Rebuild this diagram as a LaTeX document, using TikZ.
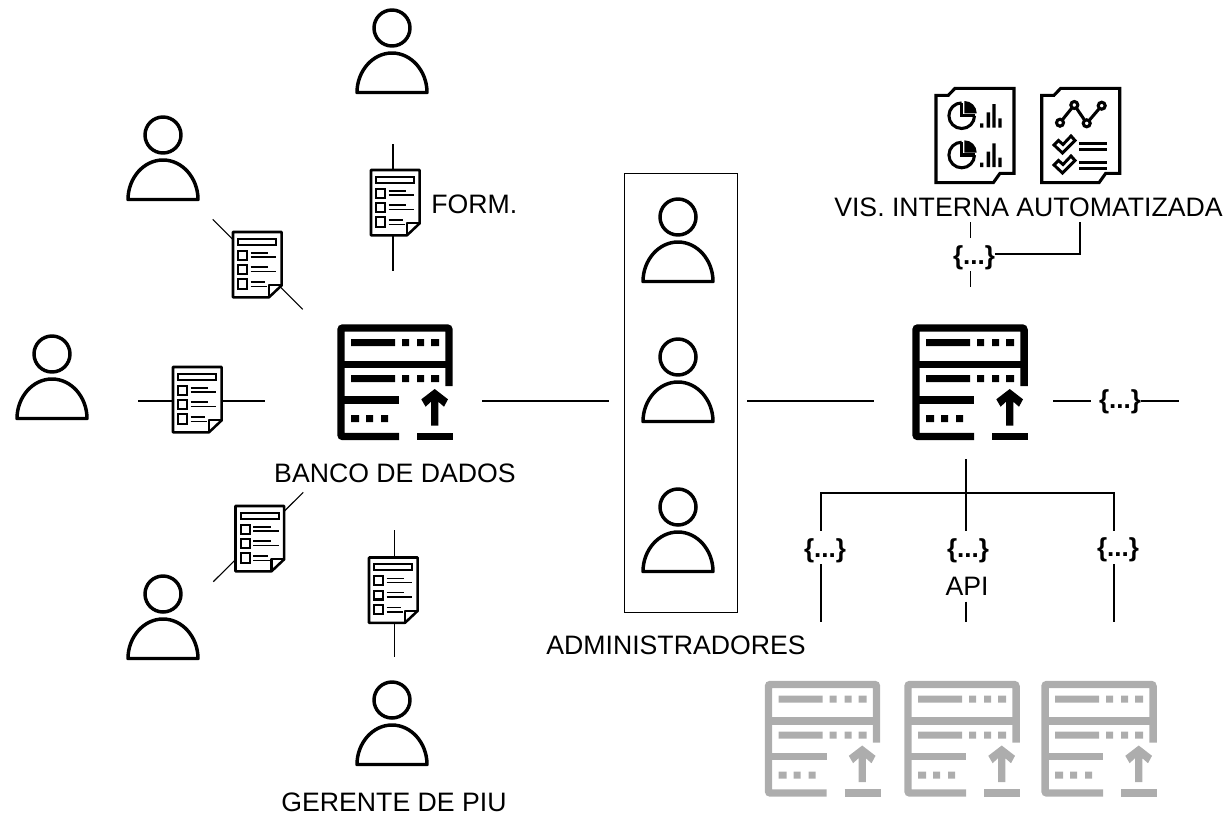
\documentclass[tikz,border=0pt]{standalone}
\usepackage{fontspec}
\setmainfont{Liberation Sans}
\definecolor{srvgray}{HTML}{ADADAD}
\tikzset{
  lbl/.style={inner sep=0pt,font=\fontsize{20}{22}\selectfont},
  brc/.style={inner sep=0pt,font=\fontsize{19.5}{22}\selectfont\bfseries},
  conn/.style={draw=black,line width=0.85pt},
  pics/server/.style={code={
    \draw[#1,line width=5.6pt,rounded corners=1.5pt] (62,112.5)--(4,112.5)--(4,4)--(112,4)--(112,62);
    \draw[#1,line width=5.6pt] (4,40.5)--(112,40.5) (4,76)--(62,76) (80,112.5)--(116,112.5);
    \fill[#1] (14,15) rectangle (58,22) (65,15) rectangle (72,22) (80,15) rectangle (87,22) (94,15) rectangle (102,22);
    \fill[#1] (14,51) rectangle (58,58) (65,51) rectangle (72,58) (80,51) rectangle (87,58) (94,51) rectangle (102,58);
    \fill[#1] (14,91) rectangle (22,98) (29,91) rectangle (36,98) (44,91) rectangle (51,98);
    \fill[#1] (97.7,65)--(111,75.3)--(107,82.7)--(101.3,77.7)--(101.3,101.7)--(94,101.7)--(94,77.7)--(88.6,82.7)--(84.3,75.3)--cycle;
  }},
  pics/person/.style={code={
    \draw[line width=2.6pt,fill=white] (0,0) circle[radius=18];
    \draw[line width=2.6pt,line join=round,fill=white] (-35,64.5) .. controls (-35,43) and (-19.3,25) .. (0,25) .. controls (19.3,25) and (35,43) .. (35,64.5) -- cycle;
  }},
  pics/formdoc/.style={code={
    \draw[line width=1.9pt,fill=white,line join=round] (0,0)--(48.7,0)--(48.7,53.3)--(36,65.3)--(0,65.3)--cycle;
    \draw[line width=1.6pt,line join=round] (48.7,53.3)--(36,53.3)--(36,65.3);
    \draw[line width=1.4pt] (5.3,6.7) rectangle (43.3,12.7);
    \draw[line width=1.6pt] (5.3,18.7) rectangle (14.3,27.7) (5.3,33.3) rectangle (14.3,42) (5.3,47.3) rectangle (14.3,56.7);
    \draw[line width=1.1pt] (17.7,21)--(35,21) (17.7,25)--(43.3,25) (17.7,35)--(35,35) (17.7,39.5)--(43.3,39.5) (17.7,50)--(32,50) (17.7,54.5)--(34,54.5);
  }},
  pics/reportsheet/.style={code={
    \draw[line width=2.3pt,fill=white,line join=miter] (0,7)--(12.3,7)--(19,0)--(78,0)--(78,85)--(64,85)--(57.3,94.4)--(0,94.4)--cycle;
  }},
  pics/piechart/.style={code={
    \draw[line width=2.3pt] (25.7,-12.8) arc[start angle=270,end angle=0,radius=12.8];
    \draw[line width=2.3pt] (25.7,-12.8)--(25.7,0)--(38.5,0);
    \fill (28.3,-14.7)--(28.3,-2.4)--(40.7,-2.4) arc[start angle=0,end angle=-90,radius=12.3]--cycle;
    \fill (44,7.6) rectangle (47.3,12) (50.7,-3.4) rectangle (54,12) (56.3,-11.7) rectangle (59.7,12) (62.3,2.6) rectangle (65.7,12);
  }},
  pics/tick/.style={code={
    \draw[line width=2.2pt,line join=miter] (0,9)--(4.5,4.5)--(9,8.5)--(17,0)--(21,4.5)--(8.5,17)--cycle;
  }},
}
\begin{document}
\begin{tikzpicture}[x=0.75pt,y=-0.75pt]
\useasboundingbox (0,0) rectangle (1230,814);

% free connector ends
\coordinate (ta) at (393,144); \coordinate (tb) at (393,271);
\coordinate (ua) at (212.7,219.3); \coordinate (ub) at (302.7,309.3);
\coordinate (la) at (138,401); \coordinate (lb) at (265,401);
\coordinate (da) at (213.3,581.7); \coordinate (db) at (303.3,492.3);
\coordinate (ba) at (394.7,530); \coordinate (bb) at (394.7,656.7);
\coordinate (ma) at (482,401); \coordinate (mb) at (609,401);
\coordinate (na) at (747,401); \coordinate (nb) at (874,401);
\coordinate (ra) at (1053,401); \coordinate (rb) at (1091,401);
\coordinate (rc) at (1141,401); \coordinate (rd) at (1179,401);
\coordinate (va) at (970.7,222); \coordinate (vb) at (970.7,238);
\coordinate (vc) at (970.7,271); \coordinate (vd) at (970.7,287);
\coordinate (ve) at (1080,222); \coordinate (vf) at (1080,254); \coordinate (vg) at (995,254);
\coordinate (ap) at (966,459); \coordinate (aq) at (966,493); \coordinate (ar) at (966,530.7);
\coordinate (as) at (966,601.7); \coordinate (at1) at (966,621.7);
\coordinate (bl) at (821,493); \coordinate (bm) at (821,530.7); \coordinate (bn) at (821,564); \coordinate (bo) at (821,621.7);
\coordinate (cl) at (1114,493); \coordinate (cm) at (1114,530.7); \coordinate (cn) at (1114,564); \coordinate (co) at (1114,621.7);

% connectors
\draw[conn] (ta)--(tb);
\draw[conn] (ua)--(ub);
\draw[conn] (la)--(lb);
\draw[conn] (da)--(db);
\draw[conn] (ba)--(bb);
\draw[conn] (ma)--(mb);
\draw[conn] (na)--(nb);
\draw[conn] (ra)--(rb);
\draw[conn] (rc)--(rd);
\draw[conn] (va)--(vb);
\draw[conn] (vc)--(vd);
\draw[conn] (ve)--(vf)--(vg);
\draw[conn] (ap)--(ar);
\draw[conn] (as)--(at1);
\draw[conn] (bm)--(bl)--(cl)--(cm);
\draw[conn] (bn)--(bo);
\draw[conn] (cn)--(co);

% admin box
\node[draw=black,line width=0.75pt,minimum width=84.75pt,minimum height=329.25pt,inner sep=0pt] (adminbox) at (680.5,392.5) {};

% people
\pic at (392,28) {person};
\pic at (163,135) {person};
\pic at (52,354) {person};
\pic at (163,594) {person};
\pic at (392,700) {person};
\pic at (678,217) {person};
\pic at (678,357) {person};
\pic at (678,507) {person};

% forms
\pic at (371,170) {formdoc};
\pic at (233,232) {formdoc};
\pic at (173,367) {formdoc};
\pic at (235.5,506) {formdoc};
\pic at (369,557.5) {formdoc};

% servers
\pic at (337,324) {server=black};
\pic at (912,324) {server=black};
\pic at (764.5,680.5) {server=srvgray};
\pic at (904,680.5) {server=srvgray};
\pic at (1041,680.5) {server=srvgray};

% report sheets
\pic at (936,88.3) {reportsheet};
\pic at (1041.7,88.3) {reportsheet};
\pic at (936,115.7) {piechart};
\pic at (936,155) {piechart};
\draw[line width=2.3pt] (1060,122.7)--(1074.3,105)--(1086.7,123.3)--(1101.7,105.7);
\foreach \px/\py in {1060/122.7,1074.3/105,1086.7/123.3,1101.7/105.7}
  \draw[line width=2.3pt,fill=white] (\px,\py) circle[radius=3.5];
\pic at (1054,136) {tick};
\pic at (1054,156) {tick};
\draw[line width=2.2pt] (1079.3,143.3)--(1107.3,143.3) (1079.3,149.3)--(1107.3,149.3) (1079.3,162.3)--(1107.3,162.3) (1079.3,168.3)--(1107.3,168.3);

% labels
\node[lbl,anchor=west] (form) at (431,204) {FORM.};
\node[lbl] (banco) at (395,473) {BANCO DE DADOS};
\node[lbl] (gerente) at (394,802.5) {GERENTE DE PIU};
\node[lbl] (admins) at (676,645) {ADMINISTRADORES};
\node[lbl] (api) at (967,586) {API};
\node[lbl,anchor=west] (vis) at (834,207) {VIS. INTERNA};
\node[lbl,anchor=west] (auto) at (1016,207) {AUTOMATIZADA};
\node[brc] (c1) at (974,258) {\{...\}};
\node[brc] (c2) at (1120,402) {\{...\}};
\node[brc] (c3) at (825,551) {\{...\}};
\node[brc] (c4) at (968,551) {\{...\}};
\node[brc] (c5) at (1118,550) {\{...\}};
\end{tikzpicture}
\end{document}
